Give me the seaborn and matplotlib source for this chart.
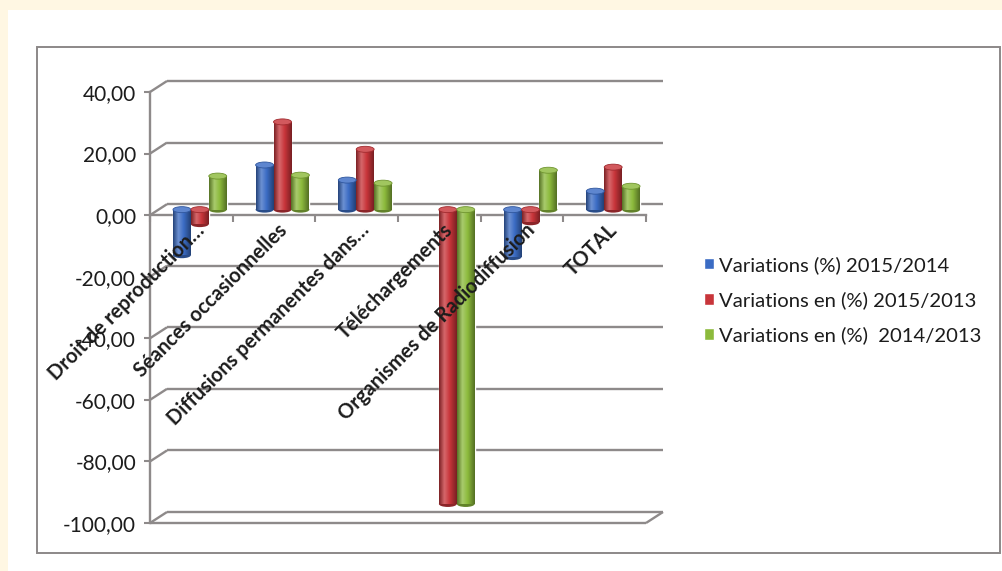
import numpy as np
import pandas as pd
import matplotlib
matplotlib.use("Agg")
import matplotlib.pyplot as plt
import matplotlib.transforms as mtransforms
from matplotlib.colors import LinearSegmentedColormap, to_rgb
from matplotlib.patches import Ellipse, Rectangle
import seaborn as sns

# ---- data -----------------------------------------------------------------
categories = [
    "Droit de reproduction…",
    "Séances occasionnelles",
    "Diffusions permanentes dans…",
    "Téléchargements",
    "Organismes de Radiodiffusion",
    "TOTAL",
]
series_names = [
    "Variations (%) 2015/2014",
    "Variations en (%) 2015/2013",
    "Variations en (%)  2014/2013",
]
var_2015_2014 = [-14.8, 14.5, 9.6, 0.0, -15.4, 6.0]
var_2015_2013 = [-4.7, 28.5, 19.6, -95.6, -4.1, 13.8]
var_2014_2013 = [10.9, 11.2, 8.6, -95.6, 12.8, 7.6]
y_ticks = [40, 20, 0, -20, -40, -60, -80, -100]

series_colors = ["#3b6cc4", "#c8353a", "#8cba3c"]

df = pd.DataFrame({
    "categorie": categories * 3,
    "serie": sum([[s] * len(categories) for s in series_names], []),
    "valeur": var_2015_2014 + var_2015_2013 + var_2014_2013,
})

# ---- figure ---------------------------------------------------------------
W, H, DPI = 1003, 571, 100
sns.set_theme(style="white")
plt.rcParams["font.family"] = ["Lato", "DejaVu Sans"]
text_color = "#1c1c1c"
grid_color = "#8e8a8a"

fig = plt.figure(figsize=(W / DPI, H / DPI), dpi=DPI, facecolor="#fff7e3")
# white page and chart frame
fig.patches.append(Rectangle((8 / W, 0), 1, 1 - 10 / H, transform=fig.transFigure,
                             facecolor="white", edgecolor="none", zorder=-10))
fig.patches.append(Rectangle((37 / W, 1 - 553 / H), (1000 - 37) / W, (553 - 47) / H,
                             transform=fig.transFigure, facecolor="none",
                             edgecolor="#8c8888", lw=1.4, zorder=-5))

ax_l, ax_r, ax_t, ax_b = 150, 646, 92, 523
ax = fig.add_axes([ax_l / W, 1 - ax_b / H, (ax_r - ax_l) / W, (ax_b - ax_t) / H])
ax.set_facecolor("none")

sns.barplot(data=df, x="categorie", y="valeur", hue="serie", palette=series_colors,
            width=0.65, saturation=1, ax=ax, legend=True, zorder=3)

ax.set_xlim(-0.5, len(categories) - 0.5)
ax.set_ylim(-100, 40)
ax.set_xlabel("")
ax.set_ylabel("")

px_x = (ax_r - ax_l) / len(categories)
px_y = (ax_b - ax_t) / 140.0
depth_px = (17, 11)
dx_d, dy_d = depth_px[0] / px_x, depth_px[1] / px_y
x0, x1 = -0.5, len(categories) - 0.5

# 3D-style walls: back grid lines, left-wall slants, floor
line_kw = dict(color=grid_color, lw=1.7, clip_on=False, zorder=1, solid_capstyle="butt")
for t in y_ticks:
    ax.plot([x0 + dx_d, x1 + dx_d], [t + dy_d, t + dy_d], **line_kw)
    ax.plot([x0, x0 + dx_d], [t, t + dy_d], **line_kw)
ax.plot([x0, x1], [-100, -100], **line_kw)
ax.plot([x1, x1 + dx_d], [-100, -100 + dy_d], **line_kw)

for side in ["top", "right"]:
    ax.spines[side].set_visible(False)
ax.spines["left"].set_color(grid_color)
ax.spines["left"].set_linewidth(1.7)
ax.spines["bottom"].set_position(("data", 0))
ax.spines["bottom"].set_color(grid_color)
ax.spines["bottom"].set_linewidth(1.7)
ax.spines["bottom"].set_zorder(2)

ax.set_yticks(y_ticks)
ax.set_yticklabels([f"{t:.2f}".replace(".", ",") for t in y_ticks])
ax.tick_params(axis="y", which="major", left=True, length=4, width=1.5, color=grid_color,
               pad=6, labelsize=15, labelcolor=text_color)
ax.set_xticks(range(len(categories)))
ax.set_xticklabels(categories)
ax.set_xticks(np.arange(x0, x1 + 0.01, 1.0), minor=True)
ax.tick_params(axis="x", which="major", bottom=False, length=0, pad=0,
               labelsize=14.5, labelcolor=text_color)
ax.tick_params(axis="x", which="minor", bottom=True, length=5, width=1.5,
               color=grid_color, direction="out")
ax.xaxis.set_zorder(6)
label_shift = mtransforms.ScaledTranslation(10 / DPI, -12 / DPI, fig.dpi_scale_trans)
for lab in ax.get_xticklabels():
    lab.set_rotation(45)
    lab.set_ha("right")
    lab.set_va("center")
    lab.set_rotation_mode("anchor")
    lab.set_fontweight("bold")
    lab.set_transform(lab.get_transform() + label_shift)

# cylinders sit at mid depth of the 3D box
mid = ax.transData + mtransforms.ScaledTranslation(depth_px[0] / 2 / DPI,
                                                    depth_px[1] / 2 / DPI,
                                                    fig.dpi_scale_trans)
cap_h = 6 / px_y


def shade(color, f):
    c = np.array(to_rgb(color))
    return tuple(np.clip(c * f, 0, 1)) if f < 1 else tuple(c + (1 - c) * (f - 1))


for container, color in zip(ax.containers, series_colors):
    cmap = LinearSegmentedColormap.from_list(
        "cyl", [(0, shade(color, 0.62)), (0.3, shade(color, 1.25)),
                (0.6, color), (1, shade(color, 0.6))])
    for bar in container:
        bar.set_transform(mid)
        bar.set_zorder(3)
        h = bar.get_height()
        if h == 0:
            bar.set_visible(False)
            continue
        bx, bw = bar.get_x(), bar.get_width()
        lo, hi = min(0, h), max(0, h)
        img = ax.imshow(np.linspace(0, 1, 64)[None, :], cmap=cmap, aspect="auto",
                        extent=[bx, bx + bw, lo, hi], transform=mid, zorder=3.2,
                        interpolation="bilinear")
        img.set_clip_path(bar)
        ax.add_patch(Ellipse((bx + bw / 2, lo), bw, cap_h, transform=mid,
                             facecolor=shade(color, 0.7), edgecolor="none", zorder=3.1))
        ax.add_patch(Ellipse((bx + bw / 2, hi), bw, cap_h, transform=mid,
                             facecolor=shade(color, 1.18), edgecolor=shade(color, 0.8),
                             lw=0.6, zorder=3.3))

ax.set_xlim(x0, x1)
ax.set_ylim(-100, 40)

# legend to the right of the plot
handles, labels = ax.get_legend_handles_labels()
ax.legend(handles, labels, loc="center left", bbox_to_anchor=(704 / W, 1 - 300 / H),
          bbox_transform=fig.transFigure, frameon=False, fontsize=14.6,
          labelcolor=text_color, handlelength=0.5, handleheight=0.5,
          handletextpad=0.25, labelspacing=0.85, borderpad=0, borderaxespad=0)

fig.savefig("out.png", dpi=DPI, facecolor=fig.get_facecolor())
